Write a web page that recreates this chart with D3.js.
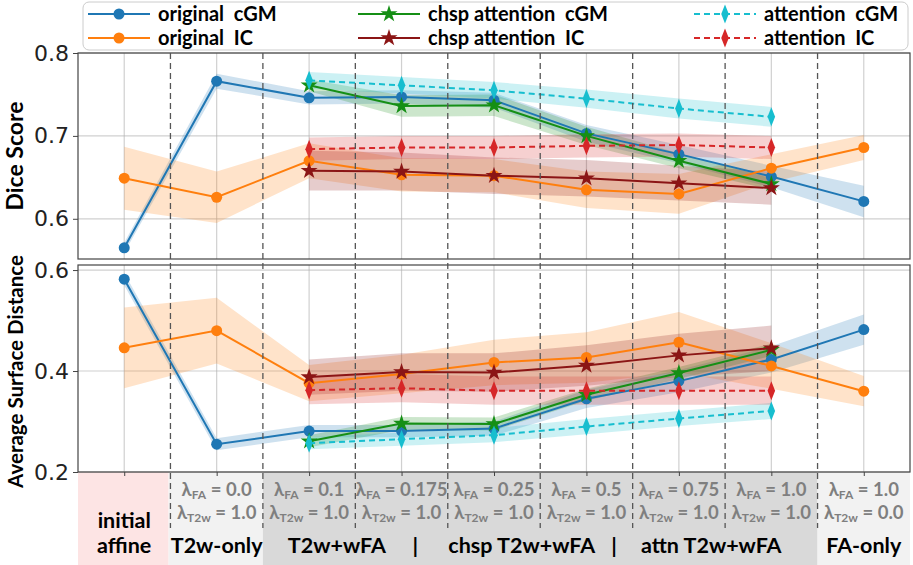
<!DOCTYPE html>
<html>
<head>
<meta charset="utf-8">
<script src="https://cdn.jsdelivr.net/npm/d3@7"></script>
<style>
  body { margin: 0; background: #fff; }
  svg { display: block; }
  .lbl { font-family: Lato, "Open Sans", sans-serif; font-weight: bold; }
</style>
</head>
<body>
<div id="chart"></div>
<script>
const WIDTH = 913, HEIGHT = 565;
const LEFT = 78, RIGHT = 910;

// x categories (index 0..8)
const categories = ['initial affine', 'T2w-only', 'T2w+wFA 0.1', 'T2w+wFA 0.175', 'T2w+wFA 0.25',
  'T2w+wFA 0.5', 'T2w+wFA 0.75', 'T2w+wFA 1.0', 'FA-only'];
const lambdaFA = [null, '0.0', '0.1', '0.175', '0.25', '0.5', '0.75', '1.0', '1.0'];
const lambdaT2w = [null, '1.0', '1.0', '1.0', '1.0', '1.0', '1.0', '1.0', '0.0'];
const fullIdx = [0, 1, 2, 3, 4, 5, 6, 7, 8];
const wfaIdx = [2, 3, 4, 5, 6, 7];

// Dice score
const diceOrigCGM = [0.565, 0.766, 0.746, 0.747, 0.743, 0.703, 0.678, 0.651, 0.621];
const diceOrigCGMsd = [0.006, 0.009, 0.008, 0.008, 0.009, 0.010, 0.011, 0.013, 0.019];
const diceOrigIC = [0.649, 0.626, 0.670, 0.653, 0.652, 0.635, 0.630, 0.661, 0.686];
const diceOrigICsd = [0.038, 0.031, 0.021, 0.020, 0.020, 0.022, 0.024, 0.017, 0.015];
const diceChspCGM = [0.761, 0.736, 0.737, 0.700, 0.670, 0.642];
const diceChspCGMsd = [0.007, 0.013, 0.013, 0.011, 0.009, 0.007];
const diceChspIC = [0.658, 0.657, 0.652, 0.649, 0.643, 0.637];
const diceChspICsd = [0.024, 0.023, 0.022, 0.022, 0.021, 0.020];
const diceAttnCGM = [0.767, 0.761, 0.755, 0.745, 0.733, 0.723];
const diceAttnCGMsd = [0.010, 0.010, 0.010, 0.011, 0.012, 0.012];
const diceAttnIC = [0.684, 0.686, 0.686, 0.688, 0.689, 0.686];
const diceAttnICsd = [0.014, 0.014, 0.014, 0.014, 0.014, 0.014];

// Average surface distance
const asdOrigCGM = [0.582, 0.255, 0.281, 0.281, 0.286, 0.345, 0.380, 0.423, 0.482];
const asdOrigCGMsd = [0.012, 0.012, 0.012, 0.012, 0.014, 0.018, 0.022, 0.026, 0.030];
const asdOrigIC = [0.446, 0.480, 0.376, 0.394, 0.417, 0.427, 0.457, 0.410, 0.360];
const asdOrigICsd = [0.080, 0.065, 0.036, 0.038, 0.045, 0.050, 0.060, 0.045, 0.030];
const asdChspCGM = [0.261, 0.296, 0.295, 0.353, 0.396, 0.442];
const asdChspCGMsd = [0.012, 0.013, 0.013, 0.012, 0.012, 0.012];
const asdChspIC = [0.388, 0.398, 0.397, 0.411, 0.431, 0.445];
const asdChspICsd = [0.035, 0.037, 0.038, 0.040, 0.043, 0.045];
const asdAttnCGM = [0.257, 0.265, 0.273, 0.290, 0.306, 0.321];
const asdAttnCGMsd = [0.012, 0.013, 0.014, 0.015, 0.015, 0.016];
const asdAttnIC = [0.362, 0.366, 0.361, 0.361, 0.361, 0.361];
const asdAttnICsd = [0.028, 0.028, 0.028, 0.028, 0.028, 0.028];

const seriesStyle = [
  { name: 'original  cGM', color: '#1f77b4', marker: 'circle', dash: null },
  { name: 'original  IC', color: '#ff7f0e', marker: 'circle', dash: null },
  { name: 'chsp attention  cGM', color: '#158f15', marker: 'star', dash: null },
  { name: 'chsp attention  IC', color: '#8b1515', marker: 'star', dash: null },
  { name: 'attention  cGM', color: '#17becf', marker: 'diamond', dash: '6,4' },
  { name: 'attention  IC', color: '#d62728', marker: 'diamond', dash: '6,4' }
];

const diceSeries = [
  [fullIdx, diceOrigCGM, diceOrigCGMsd], [fullIdx, diceOrigIC, diceOrigICsd],
  [wfaIdx, diceChspCGM, diceChspCGMsd], [wfaIdx, diceChspIC, diceChspICsd],
  [wfaIdx, diceAttnCGM, diceAttnCGMsd], [wfaIdx, diceAttnIC, diceAttnICsd]
];
const asdSeries = [
  [fullIdx, asdOrigCGM, asdOrigCGMsd], [fullIdx, asdOrigIC, asdOrigICsd],
  [wfaIdx, asdChspCGM, asdChspCGMsd], [wfaIdx, asdChspIC, asdChspICsd],
  [wfaIdx, asdAttnCGM, asdAttnCGMsd], [wfaIdx, asdAttnIC, asdAttnICsd]
];
const drawOrder = [0, 1, 2, 3, 4, 5];

const svg = d3.select('#chart').append('svg')
  .attr('width', WIDTH).attr('height', HEIGHT);

const x = d3.scaleLinear().domain([-0.5, 8.5]).range([LEFT, RIGHT]);

const panels = [
  { top: 53, bottom: 259, domain: [0.5515, 0.8], ticks: [0.6, 0.7, 0.8], label: 'Dice Score', size: 23, shift: 0, series: diceSeries },
  { top: 265, bottom: 472, domain: [0.2, 0.61], ticks: [0.2, 0.4, 0.6], label: 'Average Surface Distance', size: 20.5, shift: 3, series: asdSeries }
];

// label area backgrounds
const bgBands = [
  { from: -0.5, to: 0.48, fill: '#fde4e4' },
  { from: 0.48, to: 1.5, fill: '#f2f2f2' },
  { from: 1.5, to: 7.5, fill: '#d9d9d9' },
  { from: 7.5, to: 8.5, fill: '#f2f2f2' }
];
svg.selectAll('rect.bg').data(bgBands).enter().append('rect')
  .attr('x', d => x(d.from)).attr('width', d => x(d.to) - x(d.from))
  .attr('y', 472).attr('height', HEIGHT - 472)
  .attr('fill', d => d.fill);

function markerPath(type, color, g, px, py) {
  if (type === 'circle') {
    g.append('circle').attr('cx', px).attr('cy', py).attr('r', 5.5).attr('fill', color);
  } else if (type === 'star') {
    g.append('path').attr('d', d3.symbol(d3.symbolStar, 90)())
      .attr('transform', `translate(${px},${py})`).attr('fill', color);
  } else {
    g.append('path').attr('d', d3.symbol(d3.symbolDiamond, 95)())
      .attr('transform', `translate(${px},${py}) scale(0.72,1.05)`).attr('fill', color);
  }
}

panels.forEach(p => {
  const y = d3.scaleLinear().domain(p.domain).range([p.bottom, p.top]);
  const g = svg.append('g');

  // grid
  g.selectAll('line.vg').data(fullIdx).enter().append('line')
    .attr('x1', d => x(d)).attr('x2', d => x(d))
    .attr('y1', p.top).attr('y2', p.bottom)
    .attr('stroke', '#b0b0b0').attr('stroke-opacity', 0.6).attr('stroke-width', 1.2);
  g.selectAll('line.hg').data(p.ticks).enter().append('line')
    .attr('x1', LEFT).attr('x2', RIGHT)
    .attr('y1', d => y(d)).attr('y2', d => y(d))
    .attr('stroke', '#b0b0b0').attr('stroke-opacity', 0.6).attr('stroke-width', 1.2);

  // bands
  drawOrder.forEach(k => {
    const [idx, vals, sd] = p.series[k];
    const pts = idx.map((xi, i) => ({ xi, v: vals[i], s: sd[i] }));
    const area = d3.area().x(d => x(d.xi)).y0(d => y(d.v - d.s)).y1(d => y(d.v + d.s));
    g.append('path').attr('d', area(pts))
      .attr('fill', seriesStyle[k].color).attr('fill-opacity', 0.22);
  });

  // lines and markers
  drawOrder.forEach(k => {
    const [idx, vals] = p.series[k];
    const st = seriesStyle[k];
    const pts = idx.map((xi, i) => ({ xi, v: vals[i] }));
    const line = d3.line().x(d => x(d.xi)).y(d => y(d.v));
    g.append('path').attr('d', line(pts))
      .attr('fill', 'none').attr('stroke', st.color).attr('stroke-width', 2)
      .attr('stroke-dasharray', st.dash);
    pts.forEach(d => markerPath(st.marker, st.color, g, x(d.xi), y(d.v)));
  });

  // frame
  g.append('rect').attr('x', LEFT).attr('y', p.top)
    .attr('width', RIGHT - LEFT).attr('height', p.bottom - p.top)
    .attr('fill', 'none').attr('stroke', '#444').attr('stroke-width', 1.2);

  // y axis
  const yAxis = g.append('g').attr('transform', `translate(${LEFT},0)`)
    .call(d3.axisLeft(y).tickValues(p.ticks).tickFormat(d3.format('.1f')).tickSize(5));
  yAxis.select('.domain').remove();
  yAxis.selectAll('text').attr('font-family', 'DejaVu Sans, sans-serif')
    .attr('font-size', 22).attr('fill', '#222').attr('dx', -1);
  yAxis.selectAll('line').attr('stroke', '#444');

  svg.append('text').attr('class', 'lbl')
    .attr('transform', `translate(23,${(p.top + p.bottom) / 2 + p.shift}) rotate(-90)`)
    .attr('text-anchor', 'middle').attr('font-size', p.size).attr('fill', '#000')
    .text(p.label);
});

// bottom x-axis ticks
const xAxis = svg.append('g').attr('transform', 'translate(0,472)')
  .call(d3.axisBottom(x).tickValues(fullIdx).tickFormat('').tickSize(4));
xAxis.select('.domain').remove();
xAxis.selectAll('line').attr('stroke', '#444');

// dashed separators
const seps = [0.5, 1.5, 2.5, 3.5, 4.5, 5.5, 6.5, 7.5];
svg.selectAll('line.sep').data(seps).enter().append('line')
  .attr('x1', d => x(d)).attr('x2', d => x(d))
  .attr('y1', 53).attr('y2', 528)
  .attr('stroke', '#555').attr('stroke-width', 1.3).attr('stroke-dasharray', '6,4');

// lambda labels
const lam = svg.append('g').attr('class', 'lbl').attr('fill', '#7f7f7f').attr('font-size', 18.5);
fullIdx.forEach(i => {
  if (!lambdaFA[i]) return;
  const t1 = lam.append('text').attr('x', x(i)).attr('y', 496).attr('text-anchor', 'middle');
  t1.append('tspan').text('λ');
  t1.append('tspan').attr('font-size', 12).attr('dy', 3).text('FA');
  t1.append('tspan').attr('dy', -3).text(' = ' + lambdaFA[i]);
  const t2 = lam.append('text').attr('x', x(i)).attr('y', 519).attr('text-anchor', 'middle');
  t2.append('tspan').text('λ');
  t2.append('tspan').attr('font-size', 12).attr('dy', 3).text('T2w');
  t2.append('tspan').attr('dy', -3).text(' = ' + lambdaT2w[i]);
});

// group labels
const groupLabels = [
  { pos: 0, y: 528, text: 'initial' },
  { pos: 0, y: 553, text: 'affine' },
  { pos: 1, y: 553, text: 'T2w-only' },
  { pos: 2.3, y: 553, text: 'T2w+wFA' },
  { pos: 3.15, y: 553, text: '|' },
  { pos: 4.3, y: 553, text: 'chsp T2w+wFA' },
  { pos: 5.3, y: 553, text: '|' },
  { pos: 6.35, y: 553, text: 'attn T2w+wFA' },
  { pos: 8, y: 553, text: 'FA-only' }
];
svg.selectAll('text.grp').data(groupLabels).enter().append('text')
  .attr('class', 'lbl').attr('x', d => x(d.pos)).attr('y', d => d.y)
  .attr('text-anchor', 'middle').attr('font-size', 21.5).attr('fill', '#000')
  .text(d => d.text);

// legend
const leg = svg.append('g');
leg.append('rect').attr('x', 83).attr('y', 2).attr('width', 825).attr('height', 48)
  .attr('rx', 6).attr('fill', '#fff').attr('fill-opacity', 0.9)
  .attr('stroke', '#ccc').attr('stroke-width', 1);
const legCols = [88, 358, 694];
seriesStyle.forEach((st, k) => {
  const cx = legCols[Math.floor(k / 2)];
  const cy = 14 + (k % 2) * 24;
  leg.append('line').attr('x1', cx).attr('x2', cx + 62).attr('y1', cy).attr('y2', cy)
    .attr('stroke', st.color).attr('stroke-width', 2).attr('stroke-dasharray', st.dash);
  markerPath(st.marker, st.color, leg, cx + 31, cy);
  leg.append('text').attr('class', 'lbl').attr('x', cx + 70).attr('y', cy + 7)
    .attr('font-size', 20).attr('fill', '#000').style('white-space', 'pre')
    .text(st.name);
});
</script>
</body>
</html>
